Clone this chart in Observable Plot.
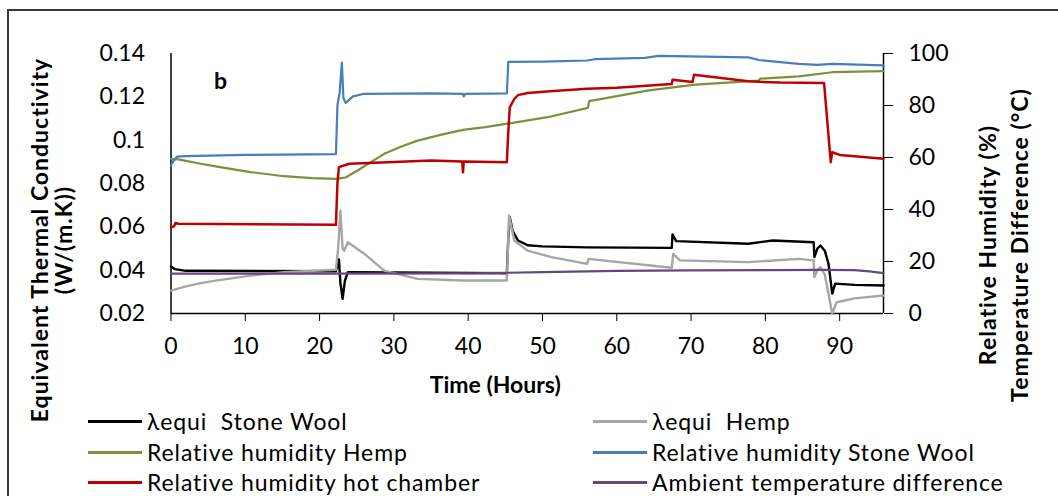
<!DOCTYPE html>
<html>
<head>
<meta charset="utf-8">
<script src="https://cdn.jsdelivr.net/npm/d3@7"></script>
<script src="https://cdn.jsdelivr.net/npm/@observablehq/plot@0.6"></script>
<style>
  html, body { margin: 0; padding: 0; background: #fff; }
  #wrap { position: relative; width: 1058px; height: 496px; overflow: hidden; font-family: Lato, sans-serif; }
  #frame { position: absolute; left: 7px; top: 9px; width: 1200px; height: 700px; border-left: 2px solid #3a3a3a; border-top: 2px solid #3a3a3a; }
  #chart { position: absolute; left: 0; top: 0; }
  .leg { position: absolute; height: 30px; display: flex; align-items: center; font-size: 23px; letter-spacing: 0.9px; color: #000; white-space: pre; }
  .sw { display: inline-block; width: 54px; height: 3px; margin-right: 5px; }
  .ytitle { position: absolute; font-weight: bold; font-size: 23px; letter-spacing: 1px; white-space: pre; text-align: center; color: #000; }
</style>
</head>
<body>
<div id="wrap">
  <div id="frame"></div>
  <div id="chart"></div>
  <div id="legend"></div>
  <div id="titles"></div>
</div>
<script>
// ---- Data ----
const xTicks = [0, 10, 20, 30, 40, 50, 60, 70, 80, 90];
const leftTicks = [0.02, 0.04, 0.06, 0.08, 0.1, 0.12, 0.14];
const rightTicks = [0, 20, 40, 60, 80, 100];

const xTitle = "Time (Hours)";
const leftTitle = ["Equivalent Thermal Conductivity", "(W/(m.K))"];
const rightTitle = ["Relative Humidity (%)", "Temperature Difference (°C)"];
const panelLabel = "b";

// λequi Stone Wool (W/(m.K)), left axis
const lamStoneT = [0, 0.5, 2, 22.2, 22.6, 22.8, 23.1, 23.4, 23.8, 30, 45.2, 45.4, 45.6, 46.0, 46.7, 48, 50, 56, 67.4, 67.5, 68, 77.7, 81, 86.5, 86.6, 87.0, 87.4, 88.0, 88.5, 89.0, 89.4, 92, 95.9];
const lamStone = [0.0417, 0.0405, 0.0397, 0.0395, 0.045, 0.034, 0.0268, 0.035, 0.0391, 0.039, 0.0386, 0.055, 0.0644, 0.058, 0.0537, 0.0515, 0.051, 0.0505, 0.0503, 0.0565, 0.0534, 0.0522, 0.0537, 0.0529, 0.046, 0.050, 0.0514, 0.049, 0.0429, 0.0292, 0.0338, 0.0332, 0.0329];

// λequi Hemp (W/(m.K)), left axis
const lamHempT = [0, 2, 4, 6, 10.7, 15.2, 22.2, 22.5, 22.8, 23.1, 23.3, 23.8, 26, 28.7, 33.2, 39.3, 45.2, 45.4, 45.5, 46.2, 48, 51.2, 56.0, 56.2, 67.4, 67.6, 68.5, 77.7, 84.5, 86.5, 86.6, 87.0, 87.4, 88.0, 89.0, 89.6, 92, 95.9];
const lamHemp = [0.0306, 0.0325, 0.034, 0.0352, 0.0375, 0.0391, 0.0402, 0.05, 0.0675, 0.050, 0.049, 0.0529, 0.0476, 0.0398, 0.036, 0.0352, 0.0352, 0.055, 0.0652, 0.0537, 0.049, 0.046, 0.0429, 0.0452, 0.0411, 0.0475, 0.0445, 0.0437, 0.0452, 0.0445, 0.0368, 0.040, 0.0414, 0.038, 0.020, 0.0252, 0.027, 0.0283];

// Relative humidity Hemp (%), right axis
const rhHempT = [0, 1, 4, 6.2, 10.7, 15.2, 19, 22.2, 23.5, 25.1, 28.7, 31, 33.2, 36.4, 39.3, 42.3, 45.3, 50.7, 56.1, 56.3, 64.3, 70.6, 79.1, 79.3, 84.5, 89, 95.9];
const rhHemp = [59.5, 59.3, 57.6, 56.5, 54.4, 52.8, 52.1, 51.8, 52.3, 55, 61.4, 64.2, 66.5, 68.8, 70.6, 71.7, 73, 75.5, 79.1, 81.7, 85.8, 88, 89.6, 90.3, 91.2, 92.8, 93.2];

// Relative humidity Stone Wool (%), right axis
const rhStoneT = [0, 0.3, 0.8, 2, 10, 22.2, 22.4, 22.7, 23.0, 23.2, 23.5, 24.5, 26, 35, 39.3, 39.4, 39.6, 45.2, 45.4, 50, 56, 57, 63.8, 65.6, 77.7, 79.1, 84.5, 87, 89, 95.9];
const rhStone = [57, 58.5, 60.3, 60.5, 61, 61.3, 80, 85, 96.5, 83, 81, 83.5, 84.5, 84.7, 84.5, 83.5, 84.5, 84.7, 96.8, 96.9, 97.3, 97.8, 98.3, 99.1, 98.5, 97.5, 96, 95.6, 96, 95.4];

// Relative humidity hot chamber (%), right axis
const rhHotT = [0, 0.4, 0.6, 1, 22.2, 22.4, 22.6, 24, 30, 35, 39.2, 39.3, 39.4, 45.2, 45.4, 45.6, 46.2, 46.7, 48, 51, 56, 60, 67.4, 67.5, 70.2, 70.4, 77.7, 82, 87.9, 88.8, 89.0, 90, 92, 95.9];
const rhHot = [33.2, 33.5, 34.8, 34.5, 34.1, 50, 56.3, 57.6, 58.3, 58.8, 58.5, 54.3, 58.5, 58.2, 70, 79.3, 82.5, 84, 84.8, 85.5, 86.4, 86.8, 88.3, 89.9, 89.0, 91.8, 89.3, 88.8, 88.7, 58.2, 62, 61, 60.5, 59.5];

// Ambient temperature difference (°C), right axis
const tdT = [0, 20, 40, 50, 60, 70, 80, 88, 92, 94, 95.9];
const td = [15.3, 15.3, 15.4, 15.9, 16.4, 16.6, 16.7, 16.8, 16.7, 16.2, 15.5];

const series = [
  {name: "λequi  Stone Wool", color: "#000000"},
  {name: "λequi  Hemp", color: "#a6a6a6"},
  {name: "Relative humidity Hemp", color: "#77933c"},
  {name: "Relative humidity Stone Wool", color: "#4a7ebb"},
  {name: "Relative humidity hot chamber", color: "#c00000"},
  {name: "Ambient temperature difference", color: "#604a7b"}
];

// ---- Chart ----
const xMax = 95.9;
const lMin = 0.02, lMax = 0.14;
const toL = v => lMin + v / 100 * (lMax - lMin);
const toR = v => Math.round((v - lMin) / (lMax - lMin) * 100);

const lineOf = (ts, vs, color, conv, w) =>
  Plot.line(vs, {x: (d, i) => ts[i], y: d => conv ? toL(d) : d, stroke: color, strokeWidth: w});

const chart = Plot.plot({
  width: 1058,
  height: 496,
  marginLeft: 170.5,
  marginRight: 175,
  marginTop: 53,
  marginBottom: 183,
  style: {fontFamily: "Lato, sans-serif", fontSize: "23px", background: "transparent", color: "#000"},
  x: {domain: [0, xMax]},
  y: {domain: [lMin, lMax]},
  marks: [
    Plot.axisX({ticks: xTicks, tickSize: 8, tickPadding: 16, label: null, fontSize: 23}),
    Plot.axisY({ticks: leftTicks, tickSize: 0, tickPadding: 26, label: null, fontSize: 23,
      tickFormat: d => String(+d.toFixed(2))}),
    Plot.axisY({anchor: "right", ticks: rightTicks.map(toL), tickSize: 9, tickPadding: 16, label: null, fontSize: 23,
      tickFormat: toR}),
    Plot.ruleY([lMin], {stroke: "#000", strokeWidth: 1.5}),
    Plot.ruleX([0, xMax], {stroke: "#000", strokeWidth: 1.5}),
    lineOf(lamStoneT, lamStone, series[0].color, false, 2.4),
    lineOf(lamHempT, lamHemp, series[1].color, false, 2.4),
    lineOf(rhHempT, rhHemp, series[2].color, true, 2.2),
    lineOf(rhStoneT, rhStone, series[3].color, true, 2.2),
    lineOf(rhHotT, rhHot, series[4].color, true, 2.5),
    lineOf(tdT, td, series[5].color, true, 2.2),
    Plot.text([panelLabel], {frameAnchor: "top-left", dx: 43, dy: 19, textAnchor: "start", fontWeight: "bold", fontSize: 23}),
    Plot.text([xTitle], {frameAnchor: "bottom", dx: -32, dy: 79, fontWeight: "bold", fontSize: 23, letterSpacing: 0.5})
  ]
});
document.getElementById("chart").appendChild(chart);

// ---- Rotated axis titles ----
const titles = document.getElementById("titles");
function addTitle(lines, cx, cy, lh) {
  const el = document.createElement("div");
  el.className = "ytitle";
  el.style.lineHeight = lh + "px";
  el.textContent = lines.join("\n");
  el.style.left = cx + "px";
  el.style.top = cy + "px";
  el.style.transform = "translate(-50%, -50%) rotate(-90deg)";
  titles.appendChild(el);
}
addTitle(leftTitle, 51, 240, 24);
addTitle(rightTitle, 1003, 245, 32);

// ---- Legend ----
const legend = document.getElementById("legend");
const legendPos = [[88, 421], [593, 421], [88, 452], [593, 452], [88, 482], [593, 482]];
series.forEach((s, i) => {
  const el = document.createElement("div");
  el.className = "leg";
  el.style.left = legendPos[i][0] + "px";
  el.style.top = (legendPos[i][1] - 15) + "px";
  const sw = document.createElement("span");
  sw.className = "sw";
  sw.style.background = s.color;
  el.appendChild(sw);
  el.appendChild(document.createTextNode(s.name));
  legend.appendChild(el);
});
</script>
</body>
</html>
